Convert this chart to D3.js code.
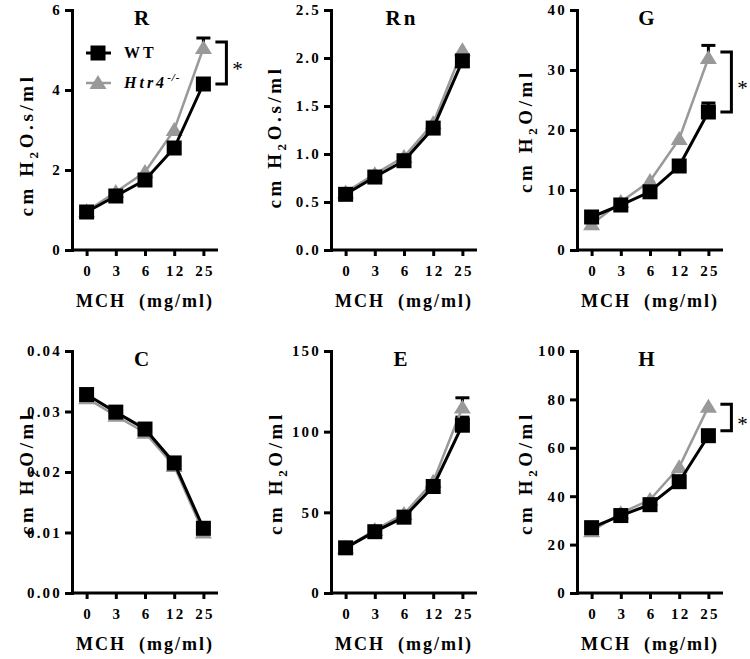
<!DOCTYPE html>
<html><head><meta charset="utf-8">
<script src="https://cdn.jsdelivr.net/npm/d3@7"></script>
<style>
body{margin:0;background:#fff;}
svg{display:block;}
svg text{font-family:"Liberation Serif","Times New Roman",Times,serif !important;font-weight:bold;fill:#000;}
</style></head>
<body><svg id="c" width="750" height="659"></svg>
<script>
// ---- data ----
const doses = ["0", "3", "6", "12", "25"];
const seriesNames = ["WT", "Htr4"];
const panelTitles = ["R", "Rn", "G", "C", "E", "H"];
const xTitle = "MCH\u00a0 (mg/ml)";
const yTitles = ["cm H2O.s/ml", "cm H2O.s/ml", "cm H2O/ml", "cm H2O/ml", "cm H2O/ml", "cm H2O/ml"];

const rWT = [0.95, 1.35, 1.75, 2.55, 4.15];
const rKO = [0.97, 1.45, 1.95, 3.0, 5.05];
const rWTerr = [0.04, 0.05, 0.06, 0.1, 0.15];
const rKOerr = [0.04, 0.05, 0.06, 0.1, 0.25];
const rTicks = [0, 2, 4, 6];

const rnWT = [0.58, 0.76, 0.93, 1.27, 1.97];
const rnKO = [0.60, 0.79, 0.97, 1.32, 2.08];
const rnWTerr = [0.02, 0.02, 0.03, 0.04, 0.05];
const rnKOerr = [0.02, 0.02, 0.03, 0.04, 0.05];
const rnTicks = [0, 0.5, 1.0, 1.5, 2.0, 2.5];

const gWT = [5.5, 7.5, 9.7, 14.0, 23.0];
const gKO = [4.3, 8.0, 11.5, 18.5, 32.0];
const gWTerr = [0.4, 0.4, 0.5, 0.8, 1.5];
const gKOerr = [0.4, 0.4, 0.6, 0.9, 2.1];
const gTicks = [0, 10, 20, 30, 40];

const cWT = [0.0328, 0.0299, 0.0271, 0.0215, 0.0107];
const cKO = [0.0322, 0.0293, 0.0265, 0.0210, 0.0100];
const cWTerr = [0.0005, 0.0005, 0.0005, 0.0006, 0.0008];
const cKOerr = [0.0005, 0.0005, 0.0005, 0.0006, 0.0008];
const cTicks = [0, 0.01, 0.02, 0.03, 0.04];

const eWT = [28, 38, 47, 66, 104];
const eKO = [28, 39, 49, 69, 115];
const eWTerr = [1, 1.5, 2, 3, 5];
const eKOerr = [1, 1.5, 2, 3, 6];
const eTicks = [0, 50, 100, 150];

const hWT = [27, 32, 36.5, 46, 65];
const hKO = [25.5, 33, 38.5, 52, 77];
const hWTerr = [1, 1, 1.5, 2, 2.5];
const hKOerr = [1, 1, 1.5, 2, 2.5];
const hTicks = [0, 20, 40, 60, 80, 100];

// significance brackets [low, high] or null
const rSig = [4.15, 5.2];
const gSig = [23, 33];
const hSig = [67, 78];

const tickFormats = [".0f", ".1f", ".0f", ".2f", ".0f", ".0f"];

const panels = [
  {wt: rWT, ko: rKO, wtErr: rWTerr, koErr: rKOerr, ticks: rTicks, sig: rSig},
  {wt: rnWT, ko: rnKO, wtErr: rnWTerr, koErr: rnKOerr, ticks: rnTicks, sig: null},
  {wt: gWT, ko: gKO, wtErr: gWTerr, koErr: gKOerr, ticks: gTicks, sig: gSig},
  {wt: cWT, ko: cKO, wtErr: cWTerr, koErr: cKOerr, ticks: cTicks, sig: null},
  {wt: eWT, ko: eKO, wtErr: eWTerr, koErr: eKOerr, ticks: eTicks, sig: null},
  {wt: hWT, ko: hKO, wtErr: hWTerr, koErr: hKOerr, ticks: hTicks, sig: hSig}
];

// ---- layout ----
const FONT = '"Liberation Serif","Times New Roman",Times,serif';
const colX = [72, 331, 577];
const rowTop = [10, 351];
const rowBot = [250, 593];
const axisLen = 146;
const yTitleOff = [39, 50, 45, 39, 49, 45];
const yTitleCy = [145, 137, 131, 473, 473, 473];
const GRAY = "#999999";

const svg = d3.select("#c");

panels.forEach((p, i) => {
  const col = i % 3, row = Math.floor(i / 3);
  const x0 = colX[col], yT = rowTop[row], yB = rowBot[row];
  const dom = [p.ticks[0], p.ticks[p.ticks.length - 1]];
  const y = d3.scaleLinear().domain(dom).range([yB, yT]);
  const x = d3.scalePoint().domain(doses).range([x0, x0 + axisLen]).padding(0.5);
  const g = svg.append("g");

  // axes
  const yAx = g.append("g").attr("transform", `translate(${x0},0)`)
    .call(d3.axisLeft(y).tickValues(p.ticks).tickFormat(d3.format(tickFormats[i])).tickSizeOuter(0).tickSize(7).tickPadding(5));
  const xAx = g.append("g").attr("transform", `translate(0,${yB})`)
    .call(d3.axisBottom(x).tickSizeOuter(0).tickSize(6).tickPadding(9));
  [yAx, xAx].forEach(a => {
    a.attr("font-family", FONT);
    a.select(".domain").attr("stroke", "#000").attr("stroke-width", 3);
    a.selectAll(".tick line").attr("stroke", "#000").attr("stroke-width", 3);
    a.selectAll("text").attr("font-weight", "bold")
      .attr("font-size", 15).attr("fill", "#000").style("letter-spacing", "2.2px");
  });
  xAx.select(".domain").attr("d", `M${x0},0H${x0 + axisLen}`);
  yAx.selectAll("text").attr("dx", 2);
  xAx.selectAll("text").attr("dx", 1);

  // titles
  g.append("text").attr("x", x0 + 71).attr("y", yT + 15).attr("text-anchor", "middle")
    .attr("font-size", 21).style("letter-spacing", "3px").text(panelTitles[i]);
  g.append("text").attr("x", x0 + 73).attr("y", yB + 57).attr("text-anchor", "middle")
    .attr("font-size", 18).style("letter-spacing", "2px").text(xTitle);
  const yt = g.append("text").attr("transform", `translate(${x0 - yTitleOff[i]},${yTitleCy[i]}) rotate(-90)`)
    .attr("text-anchor", "middle").attr("font-size", 19).style("letter-spacing", "3.6px");
  const parts = yTitles[i].split("2");
  yt.append("tspan").text(parts[0]);
  yt.append("tspan").attr("font-size", 13).attr("dy", 5).text("2");
  yt.append("tspan").attr("dy", -5).text(parts[1]);

  const lineGen = d3.line().x((d, k) => x(doses[k])).y(d => y(d));

  // upper error bars, shown only when longer than the symbol (as in the source software)
  const drawErr = (vals, errs, color, half) => {
    vals.forEach((v, k) => {
      const cx = x(doses[k]);
      const len = y(v) - y(v + errs[k]);
      if (len <= half) return;
      g.append("line").attr("x1", cx).attr("x2", cx).attr("y1", y(v)).attr("y2", y(v + errs[k]))
        .attr("stroke", color).attr("stroke-width", 3);
      g.append("line").attr("x1", cx - 7).attr("x2", cx + 7).attr("y1", y(v + errs[k])).attr("y2", y(v + errs[k]))
        .attr("stroke", color).attr("stroke-width", 3);
    });
  };
  drawErr(p.wt, p.wtErr, "#000", 7.5);
  // KO
  g.append("path").datum(p.ko).attr("d", lineGen).attr("fill", "none").attr("stroke", GRAY).attr("stroke-width", 2.5);
  drawErr(p.ko, p.koErr, "#000", 8);
  p.ko.forEach((v, k) => {
    g.append("path").attr("transform", `translate(${x(doses[k])},${y(v)})`)
      .attr("d", "M0,-8L8.5,6L-8.5,6Z").attr("fill", GRAY);
  });
  // WT
  g.append("path").datum(p.wt).attr("d", lineGen).attr("fill", "none").attr("stroke", "#000").attr("stroke-width", 3);
  p.wt.forEach((v, k) => {
    g.append("rect").attr("x", x(doses[k]) - 7.5).attr("y", y(v) - 7.5).attr("width", 15).attr("height", 15).attr("fill", "#000");
  });

  // significance bracket
  if (p.sig) {
    const bx = x(doses[4]) + 23;
    const y1 = y(p.sig[1]), y2 = y(p.sig[0]);
    g.append("path").attr("d", `M${bx - 11},${y1}H${bx}V${y2}H${bx - 11}`)
      .attr("fill", "none").attr("stroke", "#000").attr("stroke-width", 3);
    g.append("text").attr("x", bx + 11).attr("y", (y1 + y2) / 2 + 13).attr("text-anchor", "middle")
      .attr("font-size", 21).style("font-weight", "normal").text("*");
  }

  // legend in first panel
  if (i === 0) {
    const lx = 98, ly1 = 53, ly2 = 83;
    g.append("line").attr("x1", lx - 12).attr("x2", lx + 13).attr("y1", ly1).attr("y2", ly1).attr("stroke", "#000").attr("stroke-width", 3);
    g.append("rect").attr("x", lx - 7.5).attr("y", ly1 - 7.5).attr("width", 15).attr("height", 15).attr("fill", "#000");
    g.append("line").attr("x1", lx - 12).attr("x2", lx + 13).attr("y1", ly2).attr("y2", ly2).attr("stroke", GRAY).attr("stroke-width", 2.5);
    g.append("path").attr("transform", `translate(${lx},${ly2})`).attr("d", "M0,-8L8.5,6L-8.5,6Z").attr("fill", GRAY);
    g.append("text").attr("x", 124).attr("y", ly1 + 5).attr("font-size", 16).style("letter-spacing", "3px").text(seriesNames[0]);
    const t2 = g.append("text").attr("x", 124).attr("y", ly2 + 5).attr("font-size", 16).style("font-style", "italic").style("letter-spacing", "3px");
    t2.append("tspan").text(seriesNames[1]);
    t2.append("tspan").attr("font-size", 11).attr("dy", -7).style("letter-spacing", "1px").text("-/-");
  }
});
</script></body></html>
